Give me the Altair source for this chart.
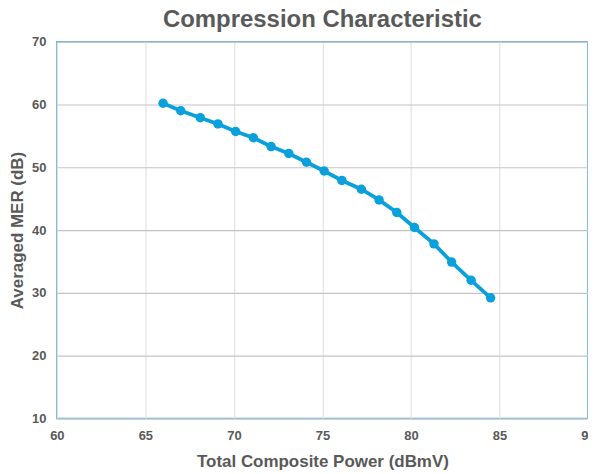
import altair as alt
import pandas as pd

power = [66.0, 67.0, 68.1, 69.1, 70.1, 71.1, 72.1, 73.1, 74.1, 75.1, 76.1, 77.2, 78.2, 79.2, 80.2, 81.3, 82.3, 83.4, 84.5]
mer = [60.2, 59.0, 57.9, 56.9, 55.7, 54.7, 53.3, 52.2, 50.8, 49.4, 47.9, 46.5, 44.8, 42.8, 40.4, 37.8, 34.9, 32.0, 29.2]
x_ticks = [60, 65, 70, 75, 80, 85, 90]
y_ticks = [10, 20, 30, 40, 50, 60, 70]

df = pd.DataFrame({"power": power, "mer": mer})

font = "Liberation Sans"
grey = "#595959"
blue = "#0aa0dc"

x = alt.X("power:Q", scale=alt.Scale(domain=[60, 90], nice=False, zero=False),
          axis=alt.Axis(title="Total Composite Power (dBmV)", values=x_ticks,
                        grid=True, gridColor="#e3e3e3", gridWidth=1.2, domain=False, ticks=False,
                        labelFont=font, labelFontSize=13, labelFontWeight="bold", labelColor=grey,
                        labelPadding=11, titleFont=font, titleFontSize=17, titleFontWeight="bold",
                        titleColor=grey, titlePadding=11, labelFlush=False))
y = alt.Y("mer:Q", scale=alt.Scale(domain=[10, 70], nice=False, zero=False),
          axis=alt.Axis(title="Averaged MER (dB)", values=y_ticks,
                        grid=True, gridColor="#c4c4c4", gridWidth=1.2, domain=False, ticks=False,
                        labelFont=font, labelFontSize=13, labelFontWeight="bold", labelColor=grey,
                        labelPadding=11, titleFont=font, titleFontSize=17, titleFontWeight="bold",
                        titleColor=grey, titlePadding=5, labelFlush=False))

line = alt.Chart(df).mark_line(color=blue, strokeWidth=3.8).encode(x=x, y=y)
pts = alt.Chart(df).mark_circle(color=blue, size=90, opacity=1).encode(x=x, y=y)

chart = (line + pts).properties(
    width=533, height=378,
    title=alt.TitleParams("Compression Characteristic", font=font, fontSize=24, fontWeight="bold",
                          color=grey, anchor="middle", offset=4),
    autosize=alt.AutoSizeParams(type="none"),
    padding={"left": 49, "top": 33, "right": 0, "bottom": 58},
).configure_view(stroke="#4aa8dc", strokeWidth=1.5)

chart.save("out.html", embed_options={"renderer": "svg", "actions": False})
